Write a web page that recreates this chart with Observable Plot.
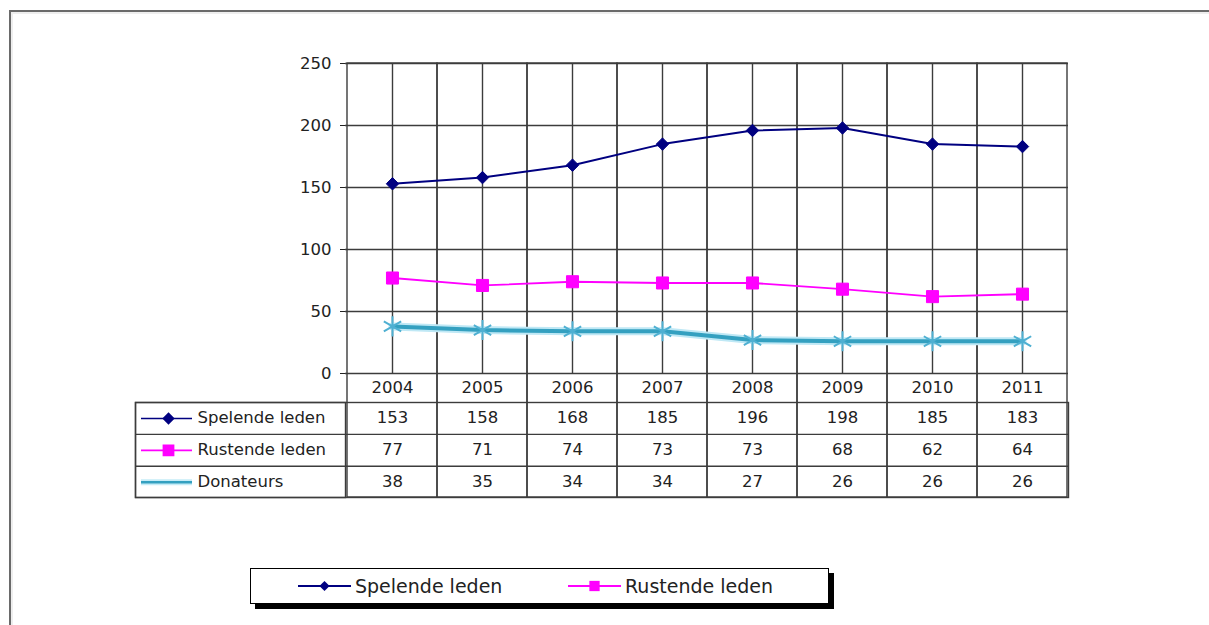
<!DOCTYPE html>
<html><head><meta charset="utf-8">
<script src="https://cdn.jsdelivr.net/npm/d3@7"></script>
<script src="https://cdn.jsdelivr.net/npm/@observablehq/plot@0.6"></script>
<style>
html,body{margin:0;padding:0;background:#fff;}
body{width:1209px;height:625px;overflow:hidden;position:relative;font-family:"DejaVu Sans",sans-serif;}
#frame{position:absolute;left:9px;top:10px;width:1220px;height:640px;border-top:2px solid #6a6a6a;border-left:2px solid #6a6a6a;box-shadow:inset 2px 2px 0 #eee;}
#chart{position:absolute;left:0;top:0;}
#legend{position:absolute;left:250px;top:568px;width:577px;height:34px;border:1px solid #000;box-shadow:5px 5px 0 #000;background:#fff;}
.item{position:absolute;top:0;height:34px;display:flex;align-items:center;font-size:19px;color:#222;}
.item svg{margin-right:4px;}
</style></head><body>
<div id="frame"></div>
<div id="chart"></div>
<div id="legend"></div>
<script>
const years = ["2004","2005","2006","2007","2008","2009","2010","2011"];
const spelende = [153,158,168,185,196,198,185,183];
const rustende = [77,71,74,73,73,68,62,64];
const donateurs = [38,35,34,34,27,26,26,26];
const seriesNames = ["Spelende leden","Rustende leden","Donateurs"];
const yTicks = [0,50,100,150,200,250];

const series = [
  {name: seriesNames[0], values: spelende, color: "#000080", symbol: "diamond2", r: 5.6, width: 2},
  {name: seriesNames[1], values: rustende, color: "#ff00ff", symbol: "square", r: 6.8, width: 1.8},
  {name: seriesNames[2], values: donateurs, color: "#34a0c0", symbol: "asterisk", r: 9.5, width: 4}
];

const marks = [];
const gridColor = "#3c3c3c";
const gw = 1.4;
// grid
marks.push(Plot.ruleY(yTicks, {stroke: gridColor, strokeWidth: gw}));
marks.push(Plot.ruleX(years, {x: d => d, stroke: gridColor, strokeWidth: gw}));
// category boundaries, extended down through the data table
marks.push(Plot.barY(years, {x: d => d, y1: () => 0, y2: () => 250, fill: "none", stroke: gridColor, strokeWidth: gw, insetBottom: -124}));
// table outer box (row part) and internal row lines
marks.push(Plot.frame({stroke: gridColor, strokeWidth: gw, insetTop: 339, insetBottom: -124, insetLeft: -210}));
series.forEach((s, i) => {
  if (i > 0) marks.push(Plot.ruleY([0], {dy: 29 + 31.9 * i, insetLeft: -210, stroke: gridColor, strokeWidth: gw}));
});
marks.push(Plot.frame({stroke: gridColor, strokeWidth: gw, insetTop: 339, insetBottom: -124, insetLeft: -210, insetRight: 723}));
// year header
marks.push(Plot.text(years, {x: d => d, text: d => d, frameAnchor: "bottom", dy: 19, fill: "#222"}));

// series lines & markers
series.forEach((s, i) => {
  const rows = s.values.map((v, j) => ({year: years[j], value: v}));
  if (s.symbol === "asterisk") {
    marks.push(Plot.line(rows, {x: "year", y: "value", stroke: "#bfe8f5", strokeWidth: 8}));
  }
  marks.push(Plot.line(rows, {x: "year", y: "value", stroke: s.color, strokeWidth: s.width}));
  if (s.symbol === "asterisk") {
    marks.push(Plot.dot(rows, {x: "year", y: "value", symbol: "asterisk", r: s.r, stroke: "#4fb0d2", strokeWidth: 2}));
  } else {
    marks.push(Plot.dot(rows, {x: "year", y: "value", symbol: s.symbol, r: s.r, fill: s.color, stroke: s.color, strokeWidth: 1}));
  }
  // table row
  const dy = 49.5 + 31.9 * i;
  marks.push(Plot.text(rows, {x: "year", text: d => String(d.value), frameAnchor: "bottom", dy, fill: "#222"}));
  marks.push(Plot.text([s.name], {text: d => d, frameAnchor: "bottom-left", dx: -148, dy, textAnchor: "start", fill: "#222"}));
  const gy = dy - 4.5;
  if (s.symbol === "asterisk") {
    marks.push(Plot.ruleY([0], {dy: gy, insetLeft: -204, insetRight: 876, stroke: "#c6ecf7", strokeWidth: 6}));
    marks.push(Plot.ruleY([0], {dy: gy, insetLeft: -204, insetRight: 876, stroke: s.color, strokeWidth: 2.6}));
  } else {
    marks.push(Plot.ruleY([0], {dy: gy, insetLeft: -204, insetRight: 876, stroke: s.color, strokeWidth: 1.6}));
    marks.push(Plot.dot([0], {frameAnchor: "bottom-left", dx: -177, dy: gy, symbol: s.symbol, r: s.r - 1, fill: s.color, stroke: s.color}));
  }
});

const chart = Plot.plot({
  width: 1209,
  height: 560,
  marginLeft: 345,
  marginRight: 141,
  marginTop: 63,
  marginBottom: 187,
  style: {fontFamily: "'DejaVu Sans', sans-serif", fontSize: "16.5px", color: "#222", background: "transparent", overflow: "visible"},
  x: {type: "band", domain: years, padding: 0, axis: null},
  y: {domain: [0, 250], ticks: yTicks, tickSize: 5, tickPadding: 9, label: null, tickFormat: d => String(d)},
  marks
});
document.getElementById("chart").appendChild(chart);

// bottom legend (first two series, as in the original)
const legend = document.getElementById("legend");
const legendLefts = [47, 317];
series.slice(0, 2).forEach((s, i) => {
  const item = document.createElement("div");
  item.className = "item";
  item.style.left = legendLefts[i] + "px";
  const svg = d3.create("svg").attr("width", 53).attr("height", 20);
  svg.append("line").attr("x1", 0).attr("x2", 53).attr("y1", 10).attr("y2", 10).attr("stroke", s.color).attr("stroke-width", 1.8);
  const sym = s.symbol === "square" ? d3.symbolSquare : d3.symbolDiamond2;
  svg.append("path").attr("transform", "translate(26.5,10)").attr("d", d3.symbol(sym, Math.PI * (s.r - 1) * (s.r - 1))()).attr("fill", s.color);
  item.appendChild(svg.node());
  const label = document.createElement("span");
  label.textContent = s.name;
  item.appendChild(label);
  legend.appendChild(item);
});
</script>
</body></html>
